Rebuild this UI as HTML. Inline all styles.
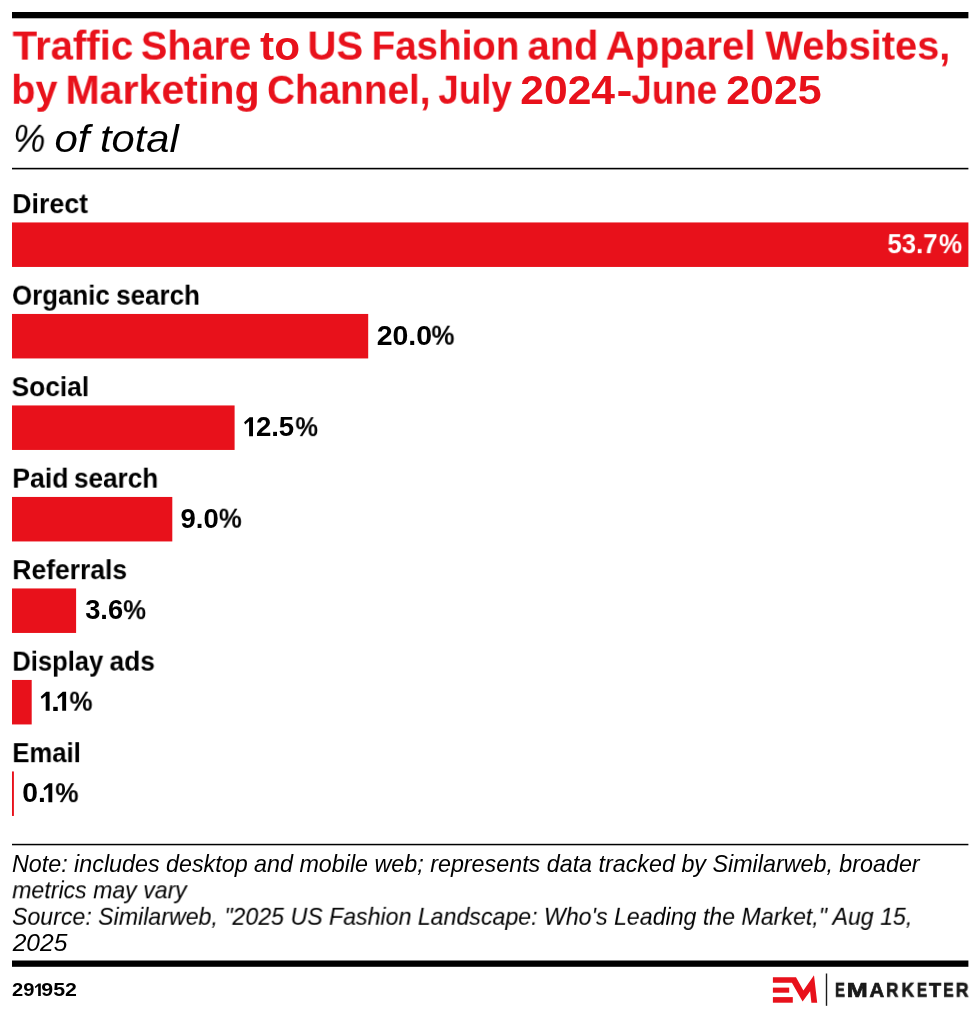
<!DOCTYPE html>
<html>
<head>
<meta charset="utf-8">
<title>Traffic Share to US Fashion and Apparel Websites</title>
<style>
html,body{margin:0;padding:0;background:#fff;}
body{width:980px;height:1018px;position:relative;overflow:hidden;font-family:"Liberation Sans",sans-serif;color:#000;}
.t{position:absolute;left:0;top:0;white-space:nowrap;line-height:1;transform-origin:0 0;will-change:transform;}
svg{position:absolute;left:0;top:0;}
</style>
</head>
<body>
<svg width="980" height="1018" viewBox="0 0 980 1018">
<rect fill="#000" x="12" y="12" width="956.4" height="6.3"/>
<rect fill="#000" x="12" y="167.8" width="956.4" height="1.6"/>
<rect fill="#e8111b" x="12" y="222.45" width="956.4" height="44.5"/>
<rect fill="#e8111b" x="12" y="313.95" width="356.2" height="44.5"/>
<rect fill="#e8111b" x="12" y="405.45" width="222.6" height="44.5"/>
<rect fill="#e8111b" x="12" y="496.95" width="160.3" height="44.5"/>
<rect fill="#e8111b" x="12" y="588.45" width="64.1" height="44.5"/>
<rect fill="#e8111b" x="12" y="679.95" width="19.7" height="44.5"/>
<rect fill="#e8111b" x="12" y="771.45" width="1.9" height="44.5"/>
<polygon fill="#000" points="253.00,417.25 253.00,436.15 249.10,436.15 249.10,421.35 245.20,424.45 244.10,422.15 249.60,417.25"/>
<polygon fill="#000" points="49.60,691.75 49.60,710.65 45.70,710.65 45.70,695.85 41.80,698.95 40.70,696.65 46.20,691.75"/>
<polygon fill="#000" points="66.10,691.75 66.10,710.65 62.20,710.65 62.20,695.85 58.30,698.95 57.20,696.65 62.70,691.75"/>
<polygon fill="#000" points="52.30,783.25 52.30,802.15 48.40,802.15 48.40,787.35 44.50,790.45 43.40,788.15 48.90,783.25"/>
<polygon fill="#000" points="40.80,983.40 40.80,996.00 38.16,996.00 38.16,986.11 35.52,988.21 34.77,986.65 38.50,983.40"/>
<rect fill="#000" x="12" y="843.8" width="956.4" height="1.5"/>
<rect fill="#000" x="12" y="960.5" width="956.4" height="6.3"/>
<polygon fill="#e8111b" points="772.9,977.2 796.0,977.2 803.4,990.4 814.0,975.3 817.2,1002.7 811.4,1002.7 810.1,991.3 802.6,1001.6 791.9,982.7 772.9,982.7"/>
<rect fill="#e8111b" x="772.9" y="987.6" width="16.3" height="5.1"/>
<rect fill="#e8111b" x="772.9" y="997.1" width="19.9" height="5.6"/>
<rect fill="#1a1a1a" x="825.8" y="973.5" width="1.4" height="32.3"/>
</svg>
<div id="t1w0" class="t" style="font-size:41.2px;font-weight:bold;font-style:normal;color:#e8111b;transform:translate(12.61px,25.60px) scaleX(0.9758)">Traffic</div>
<div id="t1w1" class="t" style="font-size:41.2px;font-weight:bold;font-style:normal;color:#e8111b;transform:translate(140.80px,25.60px) scaleX(0.9638)">Share</div>
<div id="t1w2" class="t" style="font-size:41.2px;font-weight:bold;font-style:normal;color:#e8111b;transform:translate(260.09px,25.60px) scaleX(1.0259)">to</div>
<div id="t1w3" class="t" style="font-size:41.2px;font-weight:bold;font-style:normal;color:#e8111b;transform:translate(307.47px,25.60px) scaleX(0.9717)">US</div>
<div id="t1w4" class="t" style="font-size:41.2px;font-weight:bold;font-style:normal;color:#e8111b;transform:translate(371.63px,25.60px) scaleX(0.9357)">Fashion</div>
<div id="t1w5" class="t" style="font-size:41.2px;font-weight:bold;font-style:normal;color:#e8111b;transform:translate(527.49px,25.60px) scaleX(0.9690)">and</div>
<div id="t1w6" class="t" style="font-size:41.2px;font-weight:bold;font-style:normal;color:#e8111b;transform:translate(605.72px,25.60px) scaleX(0.9766)">Apparel</div>
<div id="t1w7" class="t" style="font-size:41.2px;font-weight:bold;font-style:normal;color:#e8111b;transform:translate(765.40px,25.60px) scaleX(0.9653)">Websites,</div>
<div id="t2w0" class="t" style="font-size:41.2px;font-weight:bold;font-style:normal;color:#e8111b;transform:translate(11.26px,69.70px) scaleX(0.9600)">by</div>
<div id="t2w1" class="t" style="font-size:41.2px;font-weight:bold;font-style:normal;color:#e8111b;transform:translate(65.46px,69.70px) scaleX(0.9974)">Marketing</div>
<div id="t2w2" class="t" style="font-size:41.2px;font-weight:bold;font-style:normal;color:#e8111b;transform:translate(267.06px,69.70px) scaleX(0.9398)">Channel,</div>
<div id="t2w3" class="t" style="font-size:41.2px;font-weight:bold;font-style:normal;color:#e8111b;transform:translate(438.33px,69.70px) scaleX(0.8920)">July</div>
<div id="t2w4" class="t" style="font-size:41.2px;font-weight:bold;font-style:normal;color:#e8111b;transform:translate(520.25px,69.70px) scaleX(1.0344)">2024</div>
<div id="t2w5" class="t" style="font-size:41.2px;font-weight:bold;font-style:normal;color:#e8111b;transform:translate(616.46px,69.70px) scaleX(1.1619)">-</div>
<div id="t2w6" class="t" style="font-size:41.2px;font-weight:bold;font-style:normal;color:#e8111b;transform:translate(631.33px,69.70px) scaleX(0.8926)">June</div>
<div id="t2w7" class="t" style="font-size:41.2px;font-weight:bold;font-style:normal;color:#e8111b;transform:translate(726.24px,69.70px) scaleX(1.0416)">2025</div>
<div id="sub0" class="t" style="font-size:38.5px;font-weight:normal;font-style:italic;color:#000;transform:translate(13.10px,119.80px) scaleX(0.9445)">%</div>
<div id="sub1" class="t" style="font-size:38.5px;font-weight:normal;font-style:italic;color:#000;transform:translate(54.44px,119.80px) scaleX(1.0920)">of</div>
<div id="sub2" class="t" style="font-size:38.5px;font-weight:normal;font-style:italic;color:#000;transform:translate(100.01px,119.80px) scaleX(1.0815)">total</div>
<div id="l1w0" class="t" style="font-size:27.0px;font-weight:bold;font-style:normal;color:#000;transform:translate(12.16px,191.15px) scaleX(0.9919)">Direct</div>
<div id="l2w0" class="t" style="font-size:27.0px;font-weight:bold;font-style:normal;color:#000;transform:translate(12.04px,282.65px) scaleX(0.9576)">Organic</div>
<div id="l2w1" class="t" style="font-size:27.0px;font-weight:bold;font-style:normal;color:#000;transform:translate(116.14px,282.65px) scaleX(0.9633)">search</div>
<div id="l3w0" class="t" style="font-size:27.0px;font-weight:bold;font-style:normal;color:#000;transform:translate(11.62px,374.15px) scaleX(0.9747)">Social</div>
<div id="l4w0" class="t" style="font-size:27.0px;font-weight:bold;font-style:normal;color:#000;transform:translate(12.28px,465.65px) scaleX(0.9850)">Paid</div>
<div id="l4w1" class="t" style="font-size:27.0px;font-weight:bold;font-style:normal;color:#000;transform:translate(73.93px,465.65px) scaleX(0.9692)">search</div>
<div id="l5w0" class="t" style="font-size:27.0px;font-weight:bold;font-style:normal;color:#000;transform:translate(12.28px,557.15px) scaleX(0.9812)">Referrals</div>
<div id="l6w0" class="t" style="font-size:27.0px;font-weight:bold;font-style:normal;color:#000;transform:translate(12.34px,648.65px) scaleX(0.9468)">Display</div>
<div id="l6w1" class="t" style="font-size:27.0px;font-weight:bold;font-style:normal;color:#000;transform:translate(109.57px,648.65px) scaleX(0.9743)">ads</div>
<div id="l7w0" class="t" style="font-size:27.0px;font-weight:bold;font-style:normal;color:#000;transform:translate(12.34px,740.15px) scaleX(0.9504)">Email</div>
<div id="v1p0" class="t" style="font-size:27.0px;font-weight:bold;font-style:normal;color:#fff;transform:translate(887.45px,231.15px) scaleX(0.9525)">53.7</div>
<div id="v1p1" class="t" style="font-size:27.0px;font-weight:bold;font-style:normal;color:#fff;transform:translate(938.87px,231.15px) scaleX(0.9689)">%</div>
<div id="v2p0" class="t" style="font-size:27.0px;font-weight:bold;font-style:normal;color:#000;transform:translate(376.70px,322.65px) scaleX(1.0545)">20.0</div>
<div id="v2p1" class="t" style="font-size:27.0px;font-weight:bold;font-style:normal;color:#000;transform:translate(431.48px,322.65px) scaleX(0.9556)">%</div>
<div id="v3p1" class="t" style="font-size:27.0px;font-weight:bold;font-style:normal;color:#000;transform:translate(255.88px,414.15px) scaleX(1.0210)">2.5</div>
<div id="v3p2" class="t" style="font-size:27.0px;font-weight:bold;font-style:normal;color:#000;transform:translate(295.39px,414.15px) scaleX(0.9422)">%</div>
<div id="v4p0" class="t" style="font-size:27.0px;font-weight:bold;font-style:normal;color:#000;transform:translate(180.58px,505.65px) scaleX(1.0183)">9.0</div>
<div id="v4p1" class="t" style="font-size:27.0px;font-weight:bold;font-style:normal;color:#000;transform:translate(218.89px,505.65px) scaleX(0.9511)">%</div>
<div id="v5p0" class="t" style="font-size:27.0px;font-weight:bold;font-style:normal;color:#000;transform:translate(85.14px,597.15px) scaleX(1.0098)">3.6</div>
<div id="v5p1" class="t" style="font-size:27.0px;font-weight:bold;font-style:normal;color:#000;transform:translate(123.19px,597.15px) scaleX(0.9511)">%</div>
<div id="v6p1" class="t" style="font-size:27.0px;font-weight:bold;font-style:normal;color:#000;transform:translate(50.90px,688.65px) scaleX(1.2000)">.</div>
<div id="v6p3" class="t" style="font-size:27.0px;font-weight:bold;font-style:normal;color:#000;transform:translate(69.48px,688.65px) scaleX(0.9600)">%</div>
<div id="v7p0" class="t" style="font-size:27.0px;font-weight:bold;font-style:normal;color:#000;transform:translate(22.35px,780.15px) scaleX(1.0481)">0.</div>
<div id="v7p2" class="t" style="font-size:27.0px;font-weight:bold;font-style:normal;color:#000;transform:translate(55.27px,780.15px) scaleX(0.9689)">%</div>
<div id="n1" class="t" style="font-size:23.2px;font-weight:normal;font-style:italic;color:#000;transform:translate(11.95px,852.70px) scaleX(1.0046)">Note: includes desktop and mobile web; represents data tracked by Similarweb, broader</div>
<div id="n2" class="t" style="font-size:23.2px;font-weight:normal;font-style:italic;color:#000;transform:translate(12.20px,879.30px) scaleX(0.9963)">metrics may vary</div>
<div id="n3" class="t" style="font-size:23.2px;font-weight:normal;font-style:italic;color:#000;transform:translate(11.95px,905.80px) scaleX(0.9985)">Source: Similarweb, &quot;2025 US Fashion Landscape: Who's Leading the Market,&quot; Aug 15,</div>
<div id="n4" class="t" style="font-size:23.2px;font-weight:normal;font-style:italic;color:#000;transform:translate(12.70px,932.30px) scaleX(1.0602)">2025</div>
<div id="idn0" class="t" style="font-size:18.4px;font-weight:bold;font-style:normal;color:#000;transform:translate(11.98px,981.20px) scaleX(1.0974)">29</div>
<div id="idn1" class="t" style="font-size:18.4px;font-weight:bold;font-style:normal;color:#000;transform:translate(41.33px,981.20px) scaleX(1.1624)">952</div>
<div id="em0" class="t" style="font-size:19.6px;font-weight:bold;font-style:normal;-webkit-text-stroke:0.7px #1a1a1a;color:#1a1a1a;transform:translate(834.94px,980.80px) scaleX(0.7574)">E</div>
<div id="em1" class="t" style="font-size:19.6px;font-weight:bold;font-style:normal;-webkit-text-stroke:0.7px #1a1a1a;color:#1a1a1a;transform:translate(846.72px,980.80px) scaleX(1.2842)">M</div>
<div id="em2" class="t" style="font-size:19.6px;font-weight:bold;font-style:normal;-webkit-text-stroke:0.7px #1a1a1a;color:#1a1a1a;transform:translate(869.40px,980.80px) scaleX(1.0357)">A</div>
<div id="em3" class="t" style="font-size:19.6px;font-weight:bold;font-style:normal;-webkit-text-stroke:0.7px #1a1a1a;color:#1a1a1a;transform:translate(886.13px,980.80px) scaleX(0.8679)">R</div>
<div id="em4" class="t" style="font-size:19.6px;font-weight:bold;font-style:normal;-webkit-text-stroke:0.7px #1a1a1a;color:#1a1a1a;transform:translate(901.40px,980.80px) scaleX(0.9037)">K</div>
<div id="em5" class="t" style="font-size:19.6px;font-weight:bold;font-style:normal;-webkit-text-stroke:0.7px #1a1a1a;color:#1a1a1a;transform:translate(916.82px,980.80px) scaleX(0.7830)">E</div>
<div id="em6" class="t" style="font-size:19.6px;font-weight:bold;font-style:normal;-webkit-text-stroke:0.7px #1a1a1a;color:#1a1a1a;transform:translate(929.10px,980.80px) scaleX(1.0167)">T</div>
<div id="em7" class="t" style="font-size:19.6px;font-weight:bold;font-style:normal;-webkit-text-stroke:0.7px #1a1a1a;color:#1a1a1a;transform:translate(943.32px,980.80px) scaleX(0.7830)">E</div>
<div id="em8" class="t" style="font-size:19.6px;font-weight:bold;font-style:normal;-webkit-text-stroke:0.7px #1a1a1a;color:#1a1a1a;transform:translate(955.69px,980.80px) scaleX(0.9057)">R</div>
</body>
</html>
